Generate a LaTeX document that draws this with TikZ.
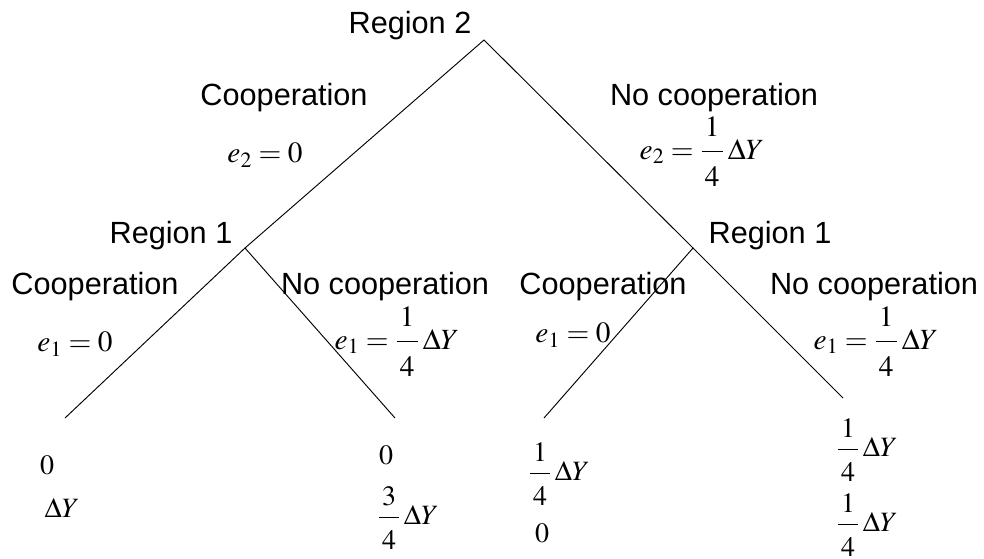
\documentclass[tikz,border=0pt]{standalone}
\usepackage{mathptmx}
\usepackage[no-math]{fontspec}
\setsansfont{Liberation Sans}
\usepackage{amsmath}
\usetikzlibrary{positioning}
% fractions padded like the original
\newcommand{\effrac}[2]{\genfrac{}{}{}{0}{\rule[-0.85ex]{0pt}{0pt}\mkern2mu#1\mkern2mu}{\rule{0pt}{2.45ex}\mkern2mu#2\mkern2mu}}
\newcommand{\payfrac}[2]{\genfrac{}{}{}{0}{\rule[-0.7ex]{0pt}{0pt}\mkern2mu#1\mkern2mu}{\rule{0pt}{2.3ex}\mkern2mu#2\mkern2mu}}
\tikzset{
    regionlbl/.style={font=\sffamily\fontsize{23}{27}\selectfont, inner sep=0pt},
    movelbl/.style={font=\sffamily\fontsize{23}{27}\selectfont, inner sep=0pt},
    effortlbl/.style={font=\fontsize{22}{26}\selectfont, inner sep=0pt},
    payoff/.style={font=\fontsize{21}{25}\selectfont, inner sep=0pt},
    branch/.style={draw=black, line width=0.7pt},
}

\begin{document}
\begin{tikzpicture}[x=0.75pt, y=-0.75pt]

    \useasboundingbox (0,0) rectangle (984,558);

    % decision points and branch ends
    \coordinate (root) at (484, 40);
    \coordinate (r1left) at (245, 248);
    \coordinate (r1right) at (693, 248);
    \coordinate (endcc) at (65, 418);
    \coordinate (endcn) at (395, 418);
    \coordinate (endnc) at (544, 418);
    \coordinate (endnn) at (843, 398);

    \draw[branch] (r1left) -- (root) -- (r1right);
    \draw[branch] (endcc) -- (r1left) -- (endcn);
    \draw[branch] (endnc) -- (r1right) -- (endnn);

    % region 2
    \node[regionlbl] (reg2) at (410, 26) {Region 2};
    \node[movelbl] (coop2) at (284, 98) {Cooperation};
    \node[effortlbl] (e2c) at (265, 155) {$e_2=0$};
    \node[movelbl] (nocoop2) at (714, 98) {No cooperation};
    \node[effortlbl] (e2n) at (702, 152) {$e_2=\effrac{1}{4}\,\Delta Y$};

    % region 1, left
    \node[regionlbl] (reg1l) at (171, 236) {Region 1};
    \node[movelbl] (coop1l) at (95, 287) {Cooperation};
    \node[effortlbl] (e1cl) at (75, 344) {$e_1=0$};
    \node[movelbl] (nocoop1l) at (385, 287) {No cooperation};
    \node[effortlbl] (e1nl) at (397, 342) {$e_1=\effrac{1}{4}\,\Delta Y$};

    % region 1, right
    \node[regionlbl] (reg1r) at (770, 236) {Region 1};
    \node[movelbl] (coop1r) at (603, 287) {Cooperation};
    \node[effortlbl] (e1cr) at (573, 335) {$e_1=0$};
    \node[movelbl] (nocoop1r) at (874, 287) {No cooperation};
    \node[effortlbl] (e1nr) at (876, 342) {$e_1=\effrac{1}{4}\,\Delta Y$};

    % payoffs
    \node[payoff] (pcc1) at (47, 465) {$0$};
    \node[payoff] (pcc2) at (62, 508) {$\Delta Y$};
    \node[payoff] (pcn1) at (386, 455) {$0$};
    \node[payoff] (pcn2) at (408, 518) {$\payfrac{3}{4}\,\Delta Y$};
    \node[payoff] (pnc1) at (559, 474) {$\payfrac{1}{4}\,\Delta Y$};
    \node[payoff] (pnc2) at (542, 533) {$0$};
    \node[payoff] (pnn1) at (867, 450) {$\payfrac{1}{4}\,\Delta Y$};
    \node[payoff] (pnn2) at (867, 525) {$\payfrac{1}{4}\,\Delta Y$};

\end{tikzpicture}
\end{document}
